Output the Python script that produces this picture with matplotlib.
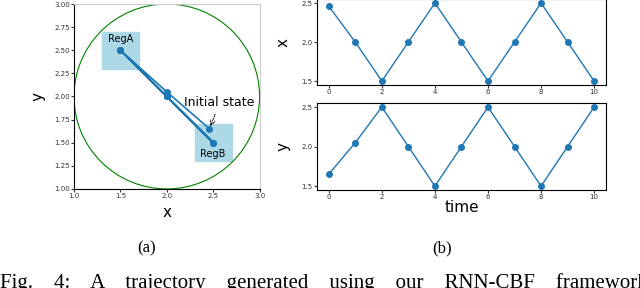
import matplotlib.pyplot as plt
from matplotlib.patches import Circle, Rectangle

# trajectory
t = [0, 1, 2, 3, 4, 5, 6, 7, 8, 9, 10]
xs = [2.46, 2.0, 1.5, 2.0, 2.5, 2.0, 1.5, 2.0, 2.5, 2.0, 1.5]
ys = [1.65, 2.05, 2.5, 2.0, 1.5, 2.0, 2.5, 2.0, 1.5, 2.0, 2.5]

reg_a = (1.3, 2.3, 0.4, 0.4)
reg_b = (2.3, 1.3, 0.4, 0.4)
blue = '#1f77b4'

# caption line (justified in the paper, cut at the bottom edge as in the source)
caption_words = ['Fig.', '4:', 'A', 'trajectory', 'generated', 'using', 'our', 'RNN-CBF', 'framework']

fig = plt.figure(figsize=(6.4, 2.88), dpi=100)

# (a) state space
ax = fig.add_axes([0.1156, 0.344, 0.29, 0.642])
ax.add_patch(Rectangle(reg_a[:2], reg_a[2], reg_a[3], color='lightblue', zorder=1))
ax.add_patch(Rectangle(reg_b[:2], reg_b[2], reg_b[3], color='lightblue', zorder=1))
ax.add_patch(Circle((2, 2), 1, fill=False, color='green', lw=0.8, zorder=2))
ax.plot(xs, ys, '-o', color=blue, ms=4, lw=1.2, zorder=3)
ax.text(1.5, 2.57, 'RegA', fontsize=7, ha='center', va='bottom')
ax.text(2.5, 1.43, 'RegB', fontsize=7, ha='center', va='top')
ax.annotate('Initial state', xy=(xs[0], ys[0]), xytext=(2.19, 1.9),
            fontsize=9, arrowprops=dict(arrowstyle='->', lw=0.6, ls='--', color='k'))
ax.set_xlim(1, 3)
ax.set_ylim(1, 3)
ax.set_xticks([1.0, 1.5, 2.0, 2.5, 3.0])
ax.set_yticks([1.0, 1.25, 1.5, 1.75, 2.0, 2.25, 2.5, 2.75, 3.0])
ax.set_yticklabels(['%.2f' % v for v in ax.get_yticks()])
ax.tick_params(labelsize=5, length=2, pad=1, colors='#333333')
ax.set_xlabel('x', fontsize=11, labelpad=4)
ax.set_ylabel('y', fontsize=11, labelpad=6)
for s in ['top', 'right']:
    ax.spines[s].set_color('#cccccc')

# (b) time series
ax1 = fig.add_axes([0.495, 0.705, 0.452, 0.298])
ax2 = fig.add_axes([0.495, 0.340, 0.452, 0.302])
for a, v, lab in [(ax1, xs, 'x'), (ax2, ys, 'y')]:
    a.plot(t, v, '-o', color=blue, ms=4, lw=1)
    a.set_xlim(-0.45, 10.45)
    a.set_ylim(1.45, 2.55)
    a.set_xticks([0, 2, 4, 6, 8, 10])
    a.set_yticks([1.5, 2.0, 2.5])
    a.tick_params(labelsize=5, length=2, pad=1, colors='#333333')
    a.set_ylabel(lab, fontsize=11, labelpad=8)
ax2.set_xlabel('time', fontsize=11, labelpad=0)

fig.text(147 / 640, 1 - 248 / 288, '(a)', fontsize=12, family='Liberation Serif',
         ha='center', va='center')
fig.text(442 / 640, 1 - 248 / 288, '(b)', fontsize=12, family='Liberation Serif',
         ha='center', va='center')
fig.text(0.0, 0.0, '    '.join(caption_words), fontsize=15, family='Liberation Serif',
         ha='left', va='baseline')

fig.savefig('out.png', dpi=100)
